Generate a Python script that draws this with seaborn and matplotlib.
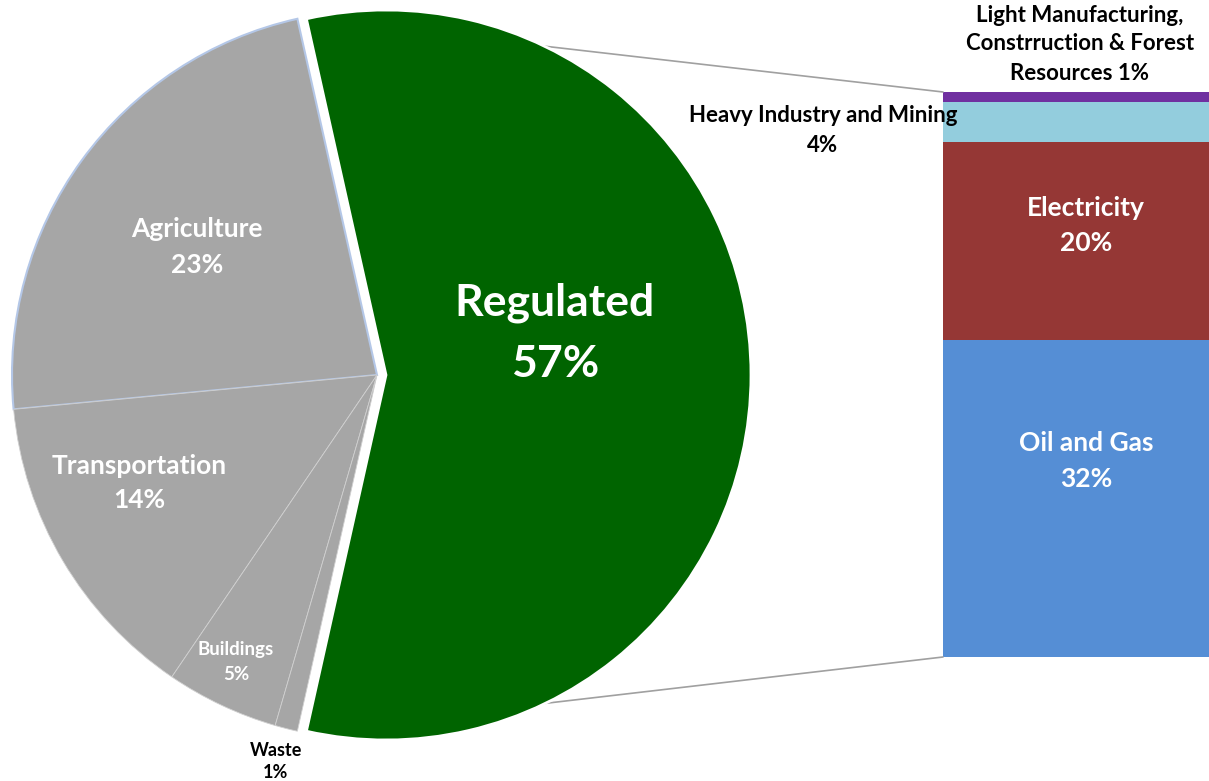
import numpy as np
import matplotlib
matplotlib.use("Agg")
import matplotlib.pyplot as plt
import seaborn as sns

sns.set_theme(style="white")
plt.rcParams['font.family'] = ['Lato', 'DejaVu Sans']

# ---- data ----
pie_labels = ["Regulated", "Agriculture", "Transportation", "Buildings", "Waste"]
pie_values = [57, 23, 14, 5, 1]
pie_colors = ["#006400", "#A6A6A6", "#A6A6A6", "#A6A6A6", "#A6A6A6"]

bar_labels = ["Oil and Gas", "Electricity", "Heavy Industry and Mining",
              "Light Manufacturing,\nConstrruction & Forest\nResources"]
bar_values = [32, 20, 4, 1]
bar_colors = ["#558ED5", "#953735", "#93CDDD", "#7030A0"]

W, H = 1209, 781
fig = plt.figure(figsize=(W / 100, H / 100), dpi=100)
fig.patch.set_facecolor("white")

# bar axes (drawn below the pie/text axes)
bx0, bx1, by_top, by_bot = 943, 1209, 92, 657
bax = fig.add_axes([bx0 / W, (H - by_bot) / H, (bx1 - bx0) / W, (by_bot - by_top) / H])
cum = np.cumsum(bar_values)
for val, col in sorted(zip(cum, bar_colors), key=lambda t: -t[0]):
    sns.barplot(x=["x"], y=[val], color=col, width=1.0, ax=bax,
                linewidth=0, saturation=1)
bax.set_xlim(-0.5, 0.5)
bax.set_ylim(0, cum[-1])
bax.axis("off")
bax.set_zorder(1)

# pie axes in pixel-like coordinates
ax = fig.add_axes([0, 0, 1, 1])
ax.set_zorder(2)
R = 365
C = (377, H - 375)
wedges, _ = ax.pie(pie_values, colors=pie_colors, startangle=-102.6,
                   counterclock=True, radius=R, center=C,
                   explode=[9, 0, 0, 0, 0],
                   wedgeprops=dict(linewidth=0.8, edgecolor="#C8C8C8"))
wedges[0].set_edgecolor("white")
wedges[0].set_linewidth(2.0)
wedges[1].set_edgecolor("#B4C7E7")
wedges[1].set_linewidth(1.5)
for w in wedges[2:]:
    w.set_edgecolor("#D0D0D0")
    w.set_linewidth(0.6)
ax.set_xlim(0, W)
ax.set_ylim(0, H)
ax.set_aspect("equal")
ax.axis("off")

# connection lines from green wedge edges to bar corners
g = wedges[0]
gc = g.center
for th, (px, py) in [(g.theta2, (bx0, by_top)), (g.theta1, (bx0, by_bot))]:
    x0 = gc[0] + g.r * np.cos(np.radians(th))
    y0 = gc[1] + g.r * np.sin(np.radians(th))
    ax.plot([x0, px], [y0, H - py], color="#A0A0A0", lw=1.2, zorder=0)


def label(x, y, s, size, color="white"):
    ax.text(x, H - y, s, ha="center", va="center", fontsize=size,
            fontweight="bold", color=color, zorder=5)


label(555, 303, "Regulated", 32)
label(555, 364, f"{pie_values[0]}%", 32)
label(197, 229, pie_labels[1], 19)
label(197, 265, f"{pie_values[1]}%", 19)
label(139, 466, pie_labels[2], 19)
label(139, 500, f"{pie_values[2]}%", 19)
label(236, 649, pie_labels[3], 13.5)
label(236, 675, f"{pie_values[3]}%", 13.5)
label(276, 750, pie_labels[4], 13, "black")
label(276, 773, f"{pie_values[4]}%", 13, "black")

label(1086, 208, bar_labels[1], 19)
label(1086, 243, f"{bar_values[1]}%", 19)
label(1086, 443, bar_labels[0], 19)
label(1086, 479, f"{bar_values[0]}%", 19)
label(823, 116, bar_labels[2], 16, "black")
label(823, 145, f"{bar_values[2]}%", 16, "black")
lm = bar_labels[3].split("\n")
label(1080, 15, lm[0], 16, "black")
label(1080, 44, lm[1], 16, "black")
label(1080, 74, f"{lm[2]} {bar_values[3]}%", 16, "black")

fig.savefig("out.png", dpi=100, facecolor="white")
